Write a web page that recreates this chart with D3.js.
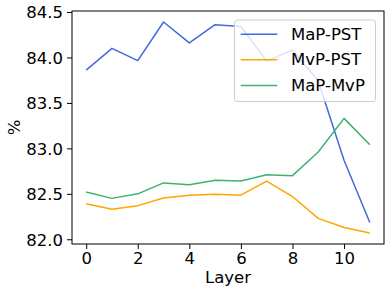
<!DOCTYPE html>
<html>
<head>
<meta charset="utf-8">
<script src="https://cdn.jsdelivr.net/npm/d3@7"></script>
<style>
  html, body { margin: 0; padding: 0; background: #fff; }
  svg { display: block; font-family: "DejaVu Sans", sans-serif; }
</style>
</head>
<body>
<div id="chart"></div>
<script>
// data
const layers = [0, 1, 2, 3, 4, 5, 6, 7, 8, 9, 10, 11];
const mapPst = [83.86, 84.10, 83.965, 84.39, 84.16, 84.36, 84.34, 83.96, 84.08, 83.74, 82.87, 82.185];
const mvpPst = [82.39, 82.33, 82.37, 82.455, 82.485, 82.495, 82.485, 82.64, 82.47, 82.23, 82.13, 82.07];
const mapMvp = [82.52, 82.45, 82.50, 82.62, 82.60, 82.65, 82.64, 82.71, 82.70, 82.96, 83.33, 83.04];

const seriesNames = ["MaP-PST", "MvP-PST", "MaP-MvP"];
const seriesColors = ["#4169e1", "#ffa500", "#3cb371"];
const xTicks = [0, 2, 4, 6, 8, 10];
const yTicks = [82.0, 82.5, 83.0, 83.5, 84.0, 84.5];

const width = 391, height = 294;
const plot = {left: 72, right: 384, top: 11, bottom: 244};

const svg = d3.select("#chart").append("svg")
  .attr("width", width)
  .attr("height", height);

// matplotlib style 5% margins
const x = d3.scaleLinear()
  .domain([-0.55, 11.55])
  .range([plot.left, plot.right]);
const y = d3.scaleLinear()
  .domain([81.948, 84.511])
  .range([plot.bottom, plot.top]);

const series = [mapPst, mvpPst, mapMvp];

const line = d3.line()
  .x((d, i) => x(layers[i]))
  .y(d => y(d));

svg.append("g")
  .selectAll("path")
  .data(series)
  .join("path")
  .attr("d", d => line(d))
  .attr("fill", "none")
  .attr("stroke", (d, i) => seriesColors[i])
  .attr("stroke-width", 1.5)
  .attr("stroke-linejoin", "round");

// axes
const xAxis = svg.append("g")
  .attr("transform", `translate(0,${plot.bottom})`)
  .call(d3.axisBottom(x).tickValues(xTicks).tickFormat(d3.format("d")).tickSize(5).tickPadding(3));
const yAxis = svg.append("g")
  .attr("transform", `translate(${plot.left},0)`)
  .call(d3.axisLeft(y).tickValues(yTicks).tickFormat(d3.format(".1f")).tickSize(5).tickPadding(4));

[xAxis, yAxis].forEach(a => {
  a.select(".domain").remove();
  a.selectAll("line").attr("stroke", "#000").attr("stroke-width", 1);
  a.selectAll("text")
    .attr("fill", "#000")
    .style("font-family", "DejaVu Sans, sans-serif")
    .style("font-size", "16.5px");
});
yAxis.selectAll("text").attr("dy", "0.35em");

// frame
svg.append("rect")
  .attr("x", plot.left)
  .attr("y", plot.top)
  .attr("width", plot.right - plot.left)
  .attr("height", plot.bottom - plot.top)
  .attr("fill", "none")
  .attr("stroke", "#000")
  .attr("stroke-width", 1);

// axis titles
svg.append("text")
  .attr("x", (plot.left + plot.right) / 2)
  .attr("y", 283)
  .attr("text-anchor", "middle")
  .style("font-size", "16.5px")
  .text("Layer");

svg.append("text")
  .attr("transform", `translate(20,${(plot.top + plot.bottom) / 2}) rotate(-90)`)
  .attr("text-anchor", "middle")
  .style("font-size", "16.5px")
  .text("%");

// legend
const legend = svg.append("g");
legend.append("rect")
  .attr("x", 234.5)
  .attr("y", 20)
  .attr("width", 141)
  .attr("height", 81.5)
  .attr("rx", 3)
  .attr("fill", "#fff")
  .attr("fill-opacity", 0.8)
  .attr("stroke", "#cccccc")
  .attr("stroke-width", 1);

const rowY = [34.3, 59.7, 85.5];
const item = legend.selectAll("g.item")
  .data(seriesNames)
  .join("g")
  .attr("class", "item")
  .attr("transform", (d, i) => `translate(0,${rowY[i]})`);
item.append("line")
  .attr("x1", 240.7).attr("x2", 277.3)
  .attr("stroke", (d, i) => seriesColors[i])
  .attr("stroke-width", 1.5);
item.append("text")
  .attr("x", 291)
  .attr("dy", "0.35em")
  .style("font-size", "16.5px")
  .text(d => d);
</script>
</body>
</html>
